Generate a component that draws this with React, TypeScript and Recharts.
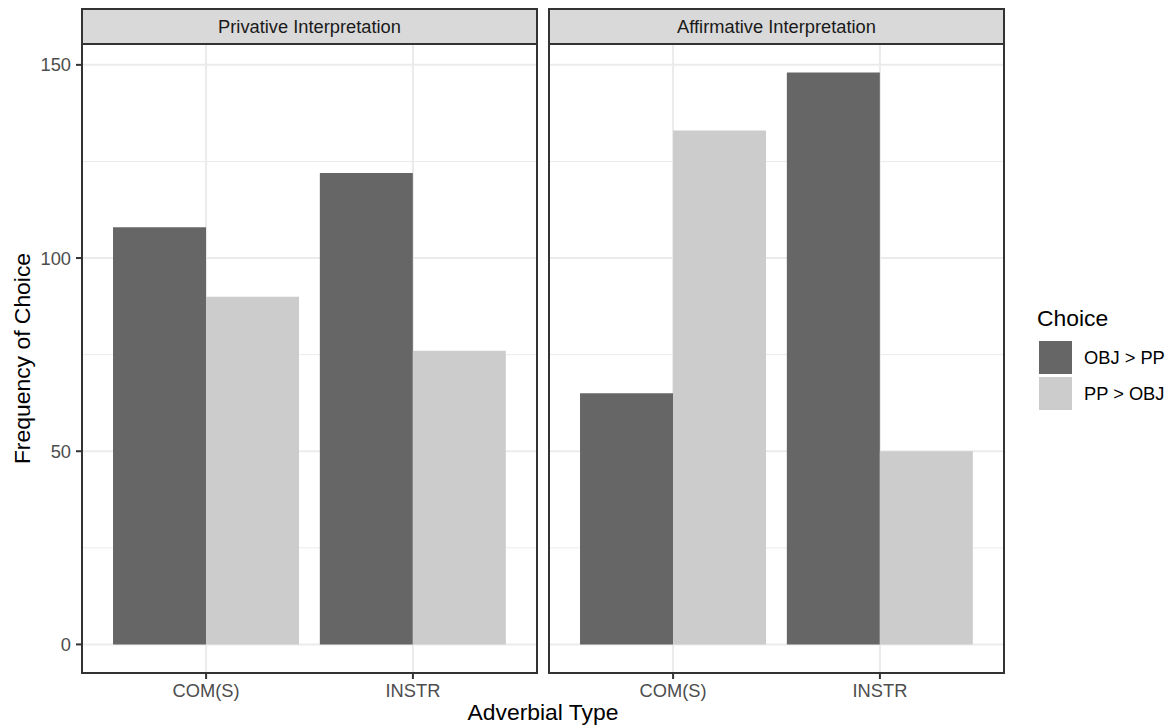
import React from 'react';
import { BarChart, Bar, XAxis, YAxis, CartesianGrid } from 'recharts';

const categories = ['COM(S)', 'INSTR'];
const privativeObj = [108, 122];
const privativePp = [90, 76];
const affirmativeObj = [65, 148];
const affirmativePp = [133, 50];
const yTicks = [0, 50, 100, 150];
const minorTicks = [25, 75, 125];
const panelTitles = ['Privative Interpretation', 'Affirmative Interpretation'];
const seriesNames = ['OBJ > PP', 'PP > OBJ'];

const DARK = '#666666';
const LIGHT = '#CCCCCC';
const FONT = '"Liberation Sans", Arial, Helvetica, sans-serif';
const TICK = { fill: '#4D4D4D', fontSize: 18.3, fontFamily: FONT };

const buildRows = (obj: number[], pp: number[]) =>
  categories.map((cat, i) => ({ cat, obj: obj[i], pp: pp[i] }));

const PLOT_TOP = 44;
const PLOT_BOTTOM = 673;

interface PanelProps {
  left: number;
  width: number;
  yAxisWidth: number;
  rows: { cat: string; obj: number; pp: number }[];
}

const Panel: React.FC<PanelProps> = ({ left, width, yAxisWidth, rows }) => {
  const plotWidth = width - yAxisWidth;
  const pad = plotWidth / 22; // 0.1 of a 2.2-unit discrete range
  return (
    <div style={{ position: 'absolute', left, top: 0 }}>
      <BarChart
        width={width}
        height={725}
        data={rows}
        margin={{ top: PLOT_TOP, right: 0, bottom: 0, left: 0 }}
        barGap={0}
        barCategoryGap="5%"
      >
        <CartesianGrid horizontalValues={minorTicks} vertical={false} stroke="#EBEBEB" strokeWidth={1} />
        <CartesianGrid stroke="#EBEBEB" strokeWidth={2} />
        <XAxis
          dataKey="cat"
          height={725 - PLOT_BOTTOM}
          padding={{ left: pad, right: pad }}
          axisLine={false}
          tickLine={{ stroke: '#333333', strokeWidth: 2 }}
          tickSize={6}
          tickMargin={5}
          tick={TICK}
        />
        <YAxis
          type="number"
          domain={[-7.4, 155.4]}
          ticks={yTicks}
          allowDataOverflow
          hide={yAxisWidth === 0}
          width={yAxisWidth}
          axisLine={false}
          tickLine={{ stroke: '#333333', strokeWidth: 2 }}
          tickSize={6}
          tickMargin={5}
          tick={TICK}
        />
        <Bar dataKey="obj" fill={DARK} isAnimationActive={false} />
        <Bar dataKey="pp" fill={LIGHT} isAnimationActive={false} />
      </BarChart>
    </div>
  );
};

const panels = [
  { x0: 82, x1: 537 },
  { x0: 549, x1: 1004 },
];

export default function App() {
  return (
    <div style={{ position: 'absolute', left: 0, top: 0, width: 1168, height: 725, background: '#fff', fontFamily: FONT }}>
      <Panel left={0} width={537} yAxisWidth={82} rows={buildRows(privativeObj, privativePp)} />
      <Panel left={549} width={455} yAxisWidth={0} rows={buildRows(affirmativeObj, affirmativePp)} />
      <svg width={1168} height={725} style={{ position: 'absolute', left: 0, top: 0, pointerEvents: 'none' }}>
        {panels.map((p, i) => (
          <g key={i}>
            <rect x={p.x0} y={9} width={p.x1 - p.x0} height={PLOT_TOP - 9} fill="#D9D9D9" stroke="#333333" strokeWidth={2} />
            <text x={(p.x0 + p.x1) / 2} y={33} textAnchor="middle" fontSize={18.3} fill="#1A1A1A" fontFamily={FONT}>
              {panelTitles[i]}
            </text>
            <rect x={p.x0} y={PLOT_TOP} width={p.x1 - p.x0} height={PLOT_BOTTOM - PLOT_TOP} fill="none" stroke="#333333" strokeWidth={2} />
          </g>
        ))}
        <text x={543} y={720} textAnchor="middle" fontSize={22.9} fill="#000" fontFamily={FONT}>
          Adverbial Type
        </text>
        <text
          x={0}
          y={0}
          transform={`translate(30, ${(PLOT_TOP + PLOT_BOTTOM) / 2}) rotate(-90)`}
          textAnchor="middle"
          fontSize={22.9}
          fill="#000"
          fontFamily={FONT}
        >
          Frequency of Choice
        </text>
        <text x={1037} y={326} fontSize={22.9} fill="#000" fontFamily={FONT}>
          Choice
        </text>
        {seriesNames.map((name, i) => (
          <g key={name}>
            <rect x={1039} y={341 + i * 36} width={33} height={33} fill={i === 0 ? DARK : LIGHT} />
            <text x={1084} y={364 + i * 36} fontSize={18.3} fill="#000" fontFamily={FONT}>
              {name}
            </text>
          </g>
        ))}
      </svg>
    </div>
  );
}
